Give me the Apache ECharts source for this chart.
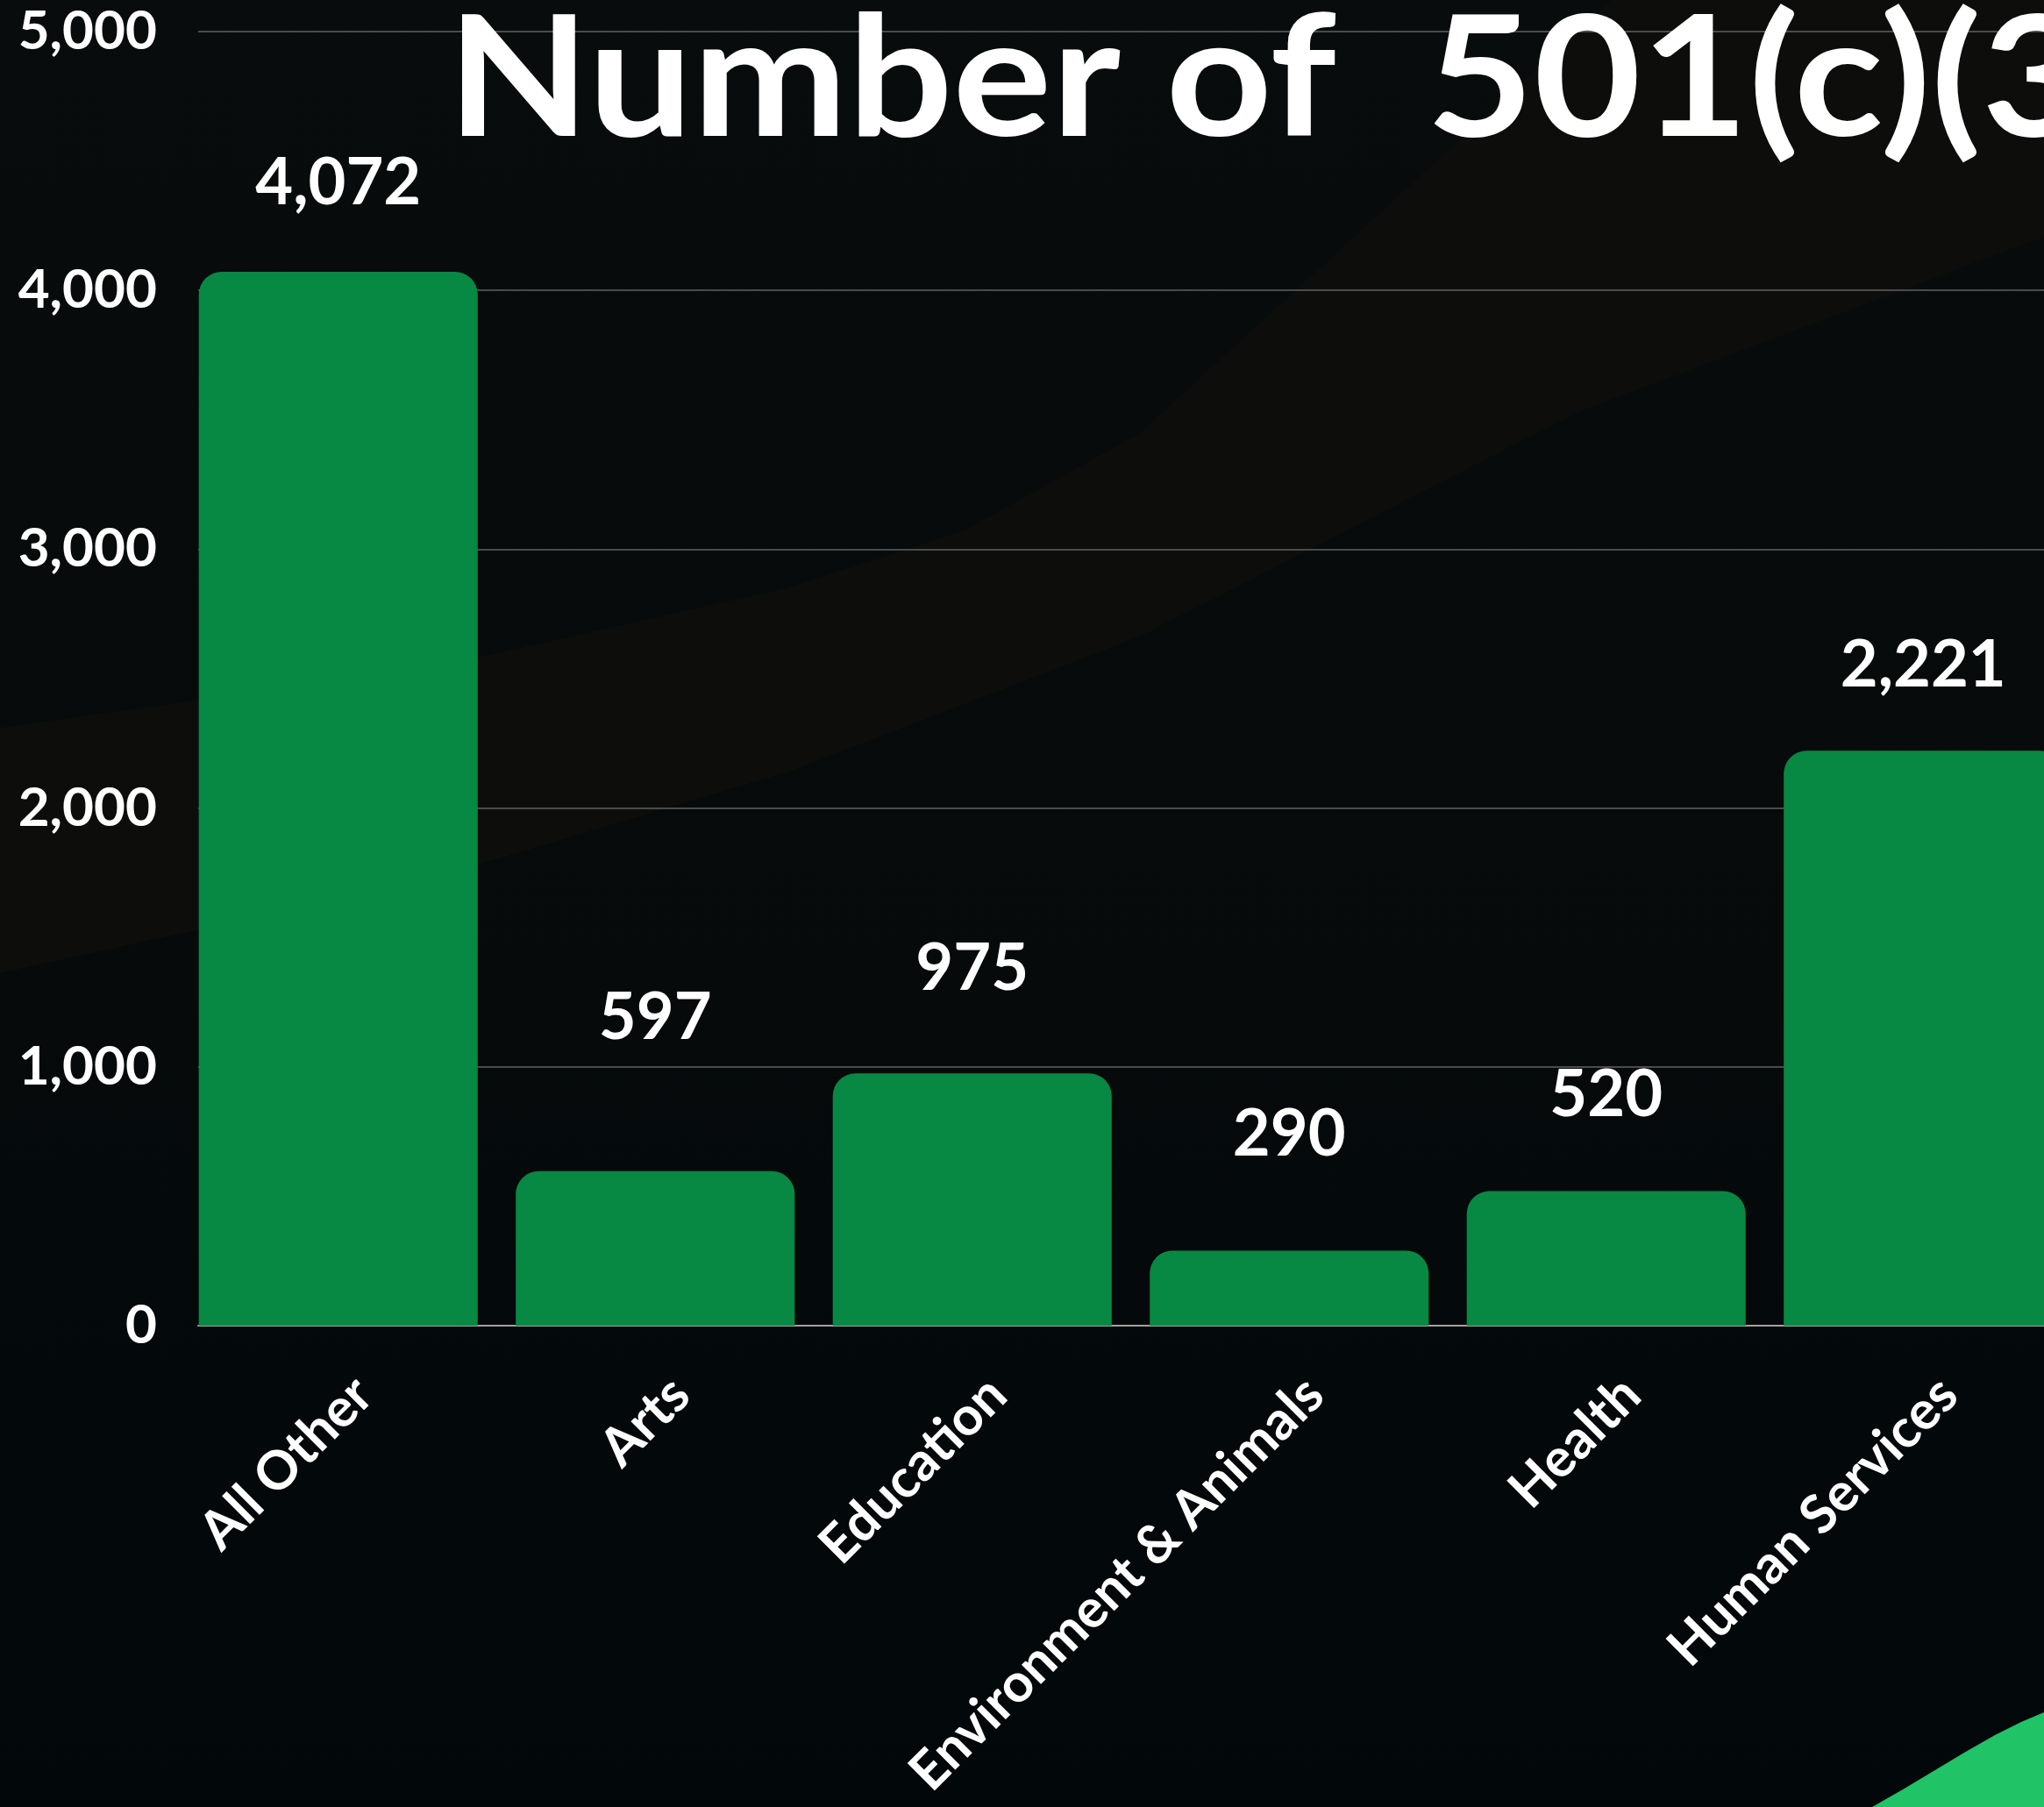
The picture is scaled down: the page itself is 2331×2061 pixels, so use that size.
<!DOCTYPE html>
<html>
<head>
<meta charset="utf-8">
<script src="https://cdn.jsdelivr.net/npm/echarts@6/dist/echarts.min.js"></script>
<style>
  html, body { margin: 0; padding: 0; background: #070b0b; }
  #chart { width: 2331px; height: 2061px; }
</style>
</head>
<body>
<div id="chart"></div>
<script>
// Registered 501(c)(3) organisations per category
const categories = ['All Other', 'Arts', 'Education', 'Environment & Animals', 'Health', 'Human Services'];
const counts = [4072, 597, 975, 290, 520, 2221];
const yTicks = [0, 1000, 2000, 3000, 4000, 5000];
const titleText = 'Number of  501(c)(3)';

// vertical gap (px) between each bar top and its value label
const labelLift = [64, 138, 82, 95, 72, 60];

const W = 2331, H = 2061;
const FONT = 'Lato, "Open Sans", sans-serif';
const fmt = v => Number(v).toLocaleString('en-US');

const chart = echarts.init(document.getElementById('chart'), null, { renderer: 'canvas', width: W, height: H });

const yMin = yTicks[0];
const yMax = yTicks[yTicks.length - 1];
const yStep = yTicks[1] - yTicks[0];

// plot runs past the right edge of the canvas
const plotLeft = 205, plotWidth = 2169;

const option = {
  animation: false,
  backgroundColor: {
    type: 'linear', x: 0, y: 0, x2: 0, y2: 1,
    colorStops: [
      { offset: 0, color: '#080c0c' },
      { offset: 0.55, color: '#060a0b' },
      { offset: 1, color: '#02070a' }
    ]
  },
  grid: [
    { left: plotLeft, width: plotWidth, top: 36, bottom: 549, containLabel: false, outerBoundsMode: 'none' },
    { left: 226, width: plotLeft + plotWidth - 226, top: 36, bottom: 549, containLabel: false, outerBoundsMode: 'none' }
  ],
  xAxis: [
    {
      type: 'category', gridIndex: 0, data: categories,
      axisLine: { show: false }, axisTick: { show: false },
      axisLabel: {
        interval: 0, rotate: 45, color: '#ffffff',
        fontFamily: FONT, fontWeight: 'bold', fontSize: 61,
        margin: 40, verticalAlign: 'top', lineHeight: 82
      }
    },
    {
      type: 'value', gridIndex: 1, min: 0, max: 1,
      axisLine: { show: true, lineStyle: { color: '#a3a3a3', width: 2 } },
      axisTick: { show: false }, axisLabel: { show: false }, splitLine: { show: false }
    }
  ],
  yAxis: [
    {
      type: 'value', gridIndex: 0, min: yMin, max: yMax, interval: yStep,
      axisLine: { show: false }, axisTick: { show: false }, splitLine: { show: false },
      axisLabel: {
        color: '#ffffff', fontFamily: FONT, fontWeight: 'bold', fontSize: 62,
        margin: 26, formatter: v => fmt(v)
      }
    },
    {
      type: 'value', gridIndex: 1, min: yMin, max: yMax, interval: yStep,
      axisLine: { show: false }, axisTick: { show: false }, axisLabel: { show: false },
      splitLine: { show: true, lineStyle: { color: '#4a4c4c', width: 2 } }
    }
  ],
  series: [
    {
      type: 'bar', xAxisIndex: 0, yAxisIndex: 0,
      barCategoryGap: '12%',
      data: counts.map((v, i) => ({ value: v, label: { distance: labelLift[i] } })),
      itemStyle: { color: '#078843', borderRadius: [26, 26, 0, 0] },
      label: {
        show: true, position: 'top', color: '#ffffff',
        fontFamily: FONT, fontWeight: 'bold', fontSize: 74,
        formatter: p => fmt(p.value)
      },
      z: 3
    }
  ],
  graphic: [
    {
      // soft lighter sweep across the backdrop
      type: 'polygon', silent: true, z: -10,
      shape: {
        points: [
          [0, 830], [500, 760], [900, 670], [1100, 605], [1300, 494], [1566, 250], [1838, 0],
          [2331, 0], [2331, 270], [1800, 470], [1300, 726], [900, 880], [500, 1000], [0, 1110]
        ]
      },
      style: { fill: '#0d0e0b' }
    },
    {
      type: 'text', silent: true, z: 20,
      x: 510, y: 93, scaleX: 1.1, scaleY: 1,
      style: {
        x: 0, y: 0, text: titleText,
        font: 'bold 192px ' + FONT, fill: '#ffffff',
        textAlign: 'left', textVerticalAlign: 'middle'
      }
    },
    {
      // green accent in the lower right corner
      type: 'polygon', silent: true, z: 20,
      shape: {
        points: [
          [2135, 2061], [2170, 2041], [2205, 2020], [2240, 1999],
          [2275, 1979], [2305, 1964], [2331, 1953], [2331, 2061]
        ]
      },
      style: { fill: '#20c365' }
    }
  ]
};

chart.setOption(option);
</script>
</body>
</html>
